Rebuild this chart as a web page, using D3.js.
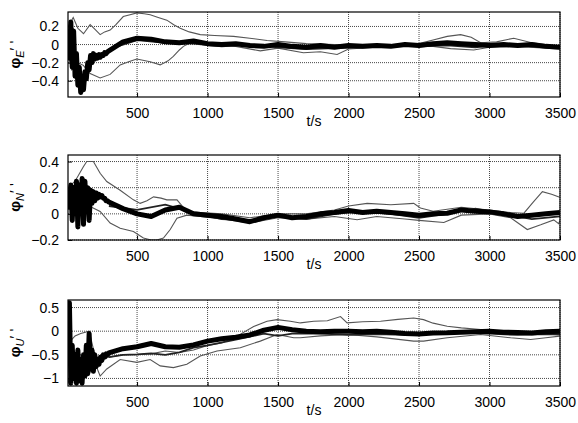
<!DOCTYPE html>
<html>
<head>
<meta charset="utf-8">
<title>phi errors</title>
<script src="https://d3js.org/d3.v7.min.js"></script>
<style>
  body { margin: 0; background: #fff; }
  text { font-family: "Liberation Sans", Arial, sans-serif; fill: #000; }
</style>
</head>
<body>
<svg id="chart" width="578" height="423"></svg>
<script>
// ---- data ----
var xTicks = [500, 1000, 1500, 2000, 2500, 3000, 3500];

// time grid for the thick band: dense at start, every 100 s later
var tMain = d3.range(10, 301, 10).concat(d3.range(400, 3501, 100));

// --- phi_E ---
var eTicks = [-0.4, -0.2, 0, 0.2];
var eMain = [0.1, -0.15, 0.25, -0.25, 0.15, -0.35, -0.1, -0.45, -0.25, -0.53,
  -0.35, -0.5, -0.3, -0.38, -0.2, -0.28, -0.12, -0.2, -0.1, -0.16,
  -0.12, -0.15, -0.11, -0.14, -0.11, -0.12, -0.09, -0.1, -0.08, -0.07,
  0.03, 0.07, 0.06, 0.03, 0.02, 0.04, 0.01, 0.0, 0.01, -0.01, -0.02, 0.0, -0.02, -0.03, -0.01, -0.03,
  -0.01, -0.02, -0.01, -0.02, 0.0, -0.01, 0.01, 0.02, 0.01, 0.0, -0.01, 0.0, -0.01, 0.0, -0.02, -0.03];
var eUpT = [10, 30, 47, 80, 120, 167, 200, 238, 270, 309, 350, 402, 450, 498, 550, 593, 650, 711, 760, 806, 870, 948, 1050, 1185, 1300, 1422, 1550, 1700, 1900, 2100, 2300, 2500, 2600, 2700, 2795, 2870, 2937, 3050, 3172, 3300, 3400, 3500];
var eUpV = [0.2, 0.25, 0.3, 0.18, 0.12, 0.22, 0.17, 0.11, 0.14, 0.16, 0.22, 0.31, 0.33, 0.35, 0.34, 0.33, 0.3, 0.27, 0.22, 0.18, 0.14, 0.11, 0.1, 0.09, 0.07, 0.045, 0.03, 0.01, 0.0, -0.01, 0.0, 0.01, 0.05, 0.09, 0.11, 0.08, 0.02, 0.03, 0.07, 0.02, 0.0, -0.02];
var eLoT = [10, 37, 80, 119, 167, 238, 309, 380, 440, 498, 593, 664, 720, 757, 800, 829, 900, 1000, 1100, 1200, 1374, 1500, 1680, 1800, 1919, 2000, 2200, 2400, 2600, 2724, 2888, 3000, 3200, 3400, 3500];
var eLoV = [-0.1, -0.28, -0.2, -0.23, -0.32, -0.37, -0.33, -0.225, -0.19, -0.16, -0.19, -0.225, -0.18, -0.13, -0.06, -0.02, 0.04, 0.02, 0.0, -0.02, -0.07, -0.04, -0.09, -0.08, -0.11, -0.05, -0.03, -0.02, -0.02, -0.045, -0.06, -0.03, -0.02, -0.04, -0.05];
var eMidT = [300, 500, 700, 900, 1100, 1300, 1500, 1700, 1900, 2100, 2300, 2500, 2700, 2900, 3100, 3300, 3500];
var eMidV = [-0.05, 0.05, 0.02, 0.01, -0.02, 0.0, -0.03, -0.05, -0.04, -0.03, -0.01, -0.02, -0.01, -0.03, 0.01, -0.02, -0.04];

// --- phi_N ---
var nTicks = [-0.2, 0, 0.2, 0.4];
var nMain = [0.15, 0.05, 0.22, -0.05, 0.2, 0.0, 0.25, -0.1, 0.22, 0.02,
  0.27, -0.08, 0.25, 0.05, 0.2, -0.05, 0.18, 0.08, 0.17, 0.1,
  0.16, 0.12, 0.15, 0.13, 0.14, 0.12, 0.12, 0.1, 0.1, 0.09,
  0.04, 0.0, -0.02, 0.03, 0.05, 0.0, -0.01, -0.02, -0.04, -0.06, -0.03, -0.01, -0.03, -0.02, 0.0, 0.01,
  0.025, 0.01, 0.02, 0.01, 0.0, -0.01, 0.0, 0.005, 0.03, 0.02, 0.015, 0.0, -0.02, -0.01, 0.0, 0.01];
var nUpT = [10, 60, 119, 143, 190, 238, 285, 380, 474, 522, 570, 617, 670, 711, 783, 853, 950, 1100, 1300, 1500, 1700, 1900, 2000, 2132, 2300, 2462, 2510, 2600, 2800, 3000, 3150, 3244, 3310, 3375, 3440, 3498];
var nUpV = [0.2, 0.25, 0.36, 0.4, 0.4, 0.31, 0.247, 0.18, 0.107, 0.08, 0.1, 0.13, 0.12, 0.107, 0.107, 0.018, 0.01, 0.0, -0.03, 0.0, 0.0, 0.03, 0.06, 0.08, 0.07, 0.08, 0.045, 0.02, 0.05, 0.03, 0.01, 0.005, 0.09, 0.17, 0.15, 0.127];
var nLoT = [10, 80, 167, 238, 309, 380, 474, 545, 600, 640, 687, 735, 783, 853, 950, 1100, 1300, 1500, 1700, 1900, 2061, 2200, 2400, 2500, 2676, 2800, 3000, 3150, 3268, 3363, 3456, 3490, 3500];
var nLoV = [0.05, 0.1, 0.056, 0.018, -0.07, -0.11, -0.135, -0.185, -0.2, -0.2, -0.185, -0.12, -0.033, -0.01, -0.02, -0.04, -0.07, -0.03, -0.04, -0.02, -0.045, -0.02, -0.04, -0.05, -0.066, -0.01, 0.0, -0.03, -0.12, -0.084, -0.046, -0.075, -0.05];
var nMidT = [300, 500, 700, 900, 1100, 1300, 1500, 1700, 1900, 2100, 2300, 2500, 2700, 2900, 3100, 3300, 3500];
var nMidV = [0.06, 0.03, 0.07, 0.01, -0.04, -0.05, -0.02, -0.04, 0.0, 0.02, 0.0, -0.03, 0.0, 0.04, 0.0, -0.04, -0.02];

// --- phi_U ---
var uTicks = [-1, -0.5, 0, 0.5];
var uMain = [-0.5, 0.6, -1.1, -0.3, -1.0, -0.5, -1.1, -0.4, -1.05, -0.6,
  -1.1, -0.5, -0.95, -0.3, -0.9, -0.05, -0.8, -0.4, -0.85, -0.5,
  -0.75, -0.6, -0.7, -0.55, -0.62, -0.5, -0.55, -0.48, -0.5, -0.46,
  -0.37, -0.33, -0.26, -0.33, -0.34, -0.29, -0.21, -0.16, -0.13, -0.08, 0.02, 0.08, 0.03, 0.0, -0.01, 0.0,
  0.0, -0.01, 0.0, -0.02, -0.05, -0.06, -0.04, -0.035, -0.02, -0.01, 0.0, -0.02, -0.03, -0.04, -0.01, 0.0];
var uUpT = [10, 20, 30, 60, 100, 160, 200, 238, 300, 400, 500, 600, 700, 800, 900, 1000, 1100, 1200, 1327, 1422, 1493, 1587, 1658, 1753, 1850, 1943, 1990, 2100, 2227, 2350, 2462, 2532, 2600, 2700, 2800, 2937, 3100, 3300, 3500];
var uUpV = [-0.3, 0.6, -0.2, -0.1, -0.05, 0.0, -0.5, -0.6, -0.55, -0.5, -0.5, -0.48, -0.42, -0.45, -0.4, -0.3, -0.25, -0.12, 0.1, 0.21, 0.245, 0.21, 0.175, 0.21, 0.22, 0.31, 0.175, 0.2, 0.21, 0.25, 0.28, 0.245, 0.17, 0.105, 0.07, 0.035, 0.0, -0.02, -0.05];
var uLoT = [10, 50, 100, 150, 214, 238, 285, 380, 498, 593, 664, 758, 853, 948, 1067, 1232, 1374, 1493, 1611, 1658, 1800, 1990, 2200, 2462, 2532, 2700, 2937, 3150, 3292, 3400, 3498];
var uLoV = [-1.1, -0.7, -1.1, -0.9, -0.77, -0.95, -0.8, -0.6, -0.66, -0.6, -0.735, -0.77, -0.7, -0.525, -0.42, -0.35, -0.21, -0.07, -0.14, -0.14, -0.1, -0.07, -0.12, -0.21, -0.21, -0.14, -0.07, -0.14, -0.175, -0.14, -0.105];
var uMidT = [300, 400, 500, 600, 700, 800, 900, 1000, 1200, 1400, 1500, 1600, 1800, 2000, 2200, 2400, 2600, 2800, 3000, 3200, 3400, 3500];
var uMidV = [-0.55, -0.5, -0.49, -0.47, -0.5, -0.45, -0.35, -0.3, -0.18, -0.05, -0.1, -0.05, -0.05, -0.08, -0.06, -0.08, -0.05, -0.03, -0.05, -0.08, -0.06, -0.07];

// ---- panels ----
var panels = [
  { id: "E", top: 12, bottom: 97, domain: [-0.58, 0.36], ticks: eTicks,
    main: eMain, thin: [[eUpT, eUpV], [eLoT, eLoV], [eMidT, eMidV]] },
  { id: "N", top: 155, bottom: 240, domain: [-0.2, 0.45], ticks: nTicks,
    main: nMain, thin: [[nUpT, nUpV], [nLoT, nLoV], [nMidT, nMidV]] },
  { id: "U", top: 300, bottom: 386, domain: [-1.16, 0.66], ticks: uTicks,
    main: uMain, thin: [[uUpT, uUpV], [uLoT, uLoV], [uMidT, uMidV]] }
];

var svg = d3.select("#chart");
var left = 68, right = 560;

var x = d3.scaleLinear().domain([10, 3500]).range([left, right]);

panels.forEach(function(p, i) {
  var y = d3.scaleLinear().domain(p.domain).range([p.bottom, p.top]);
  var g = svg.append("g");

  // clip
  g.append("clipPath").attr("id", "clip" + i)
    .append("rect").attr("x", left).attr("y", p.top)
    .attr("width", right - left).attr("height", p.bottom - p.top);

  // grid (dotted, dark like the scan)
  g.selectAll(".vg").data(xTicks).enter().append("line")
    .attr("x1", function(d) { return x(d); }).attr("x2", function(d) { return x(d); })
    .attr("y1", p.top).attr("y2", p.bottom)
    .attr("stroke", "#333").attr("stroke-width", 0.9).attr("stroke-dasharray", "1,1");
  g.selectAll(".hg").data(p.ticks).enter().append("line")
    .attr("x1", left).attr("x2", right)
    .attr("y1", function(d) { return y(d); }).attr("y2", function(d) { return y(d); })
    .attr("stroke", "#333").attr("stroke-width", 0.9).attr("stroke-dasharray", "1,1");

  // lines
  var line = d3.line()
    .x(function(d) { return x(d[0]); })
    .y(function(d) { return y(d[1]); });

  var lines = g.append("g").attr("clip-path", "url(#clip" + i + ")");

  p.thin.forEach(function(s, k) {
    var pts = d3.zip(s[0], s[1]);
    lines.append("path").datum(pts).attr("d", line)
      .attr("fill", "none").attr("stroke", k == 2 ? "#222" : "#555")
      .attr("stroke-width", k == 2 ? 1.8 : 1.1);
  });

  lines.append("path").datum(d3.zip(tMain, p.main)).attr("d", line)
    .attr("fill", "none").attr("stroke", "#000").attr("stroke-width", 5)
    .attr("stroke-linejoin", "round");

  // frame
  g.append("rect").attr("x", left).attr("y", p.top)
    .attr("width", right - left).attr("height", p.bottom - p.top)
    .attr("fill", "none").attr("stroke", "#000").attr("stroke-width", 1.2);

  // axes with inner ticks
  var xAxis = d3.axisBottom(x).tickValues(xTicks).tickSize(-4).tickPadding(8)
    .tickFormat(d3.format("d"));
  var gx = g.append("g").attr("transform", "translate(0," + p.bottom + ")").call(xAxis);
  gx.select(".domain").remove();
  gx.selectAll("text").style("font-size", "14px").attr("dy", "0.95em");

  var yAxis = d3.axisLeft(y).tickValues(p.ticks).tickSize(-4).tickPadding(9)
    .tickFormat(function(d) { return d3.format("")(d); });
  var gy = g.append("g").attr("transform", "translate(" + left + ",0)").call(yAxis);
  gy.select(".domain").remove();
  gy.selectAll("text").style("font-size", "14px");

  // x label
  g.append("text").attr("x", (left + right) / 2).attr("y", p.bottom + 29)
    .attr("text-anchor", "middle").style("font-size", "14px").text("t/s");

  // y label  phi_X '
  var cy = (p.top + p.bottom) / 2;
  var lab = g.append("text")
    .attr("transform", "translate(20," + cy + ") rotate(-90)")
    .attr("text-anchor", "middle").style("font-size", "15px").style("font-weight", "bold");
  lab.append("tspan").text("φ");
  lab.append("tspan").attr("dy", "4").style("font-size", "11px").style("font-style", "italic")
    .style("font-weight", "normal").text(p.id);
  lab.append("tspan").attr("dy", "-4").style("font-weight", "normal").text("′ '");
});
</script>
</body>
</html>
